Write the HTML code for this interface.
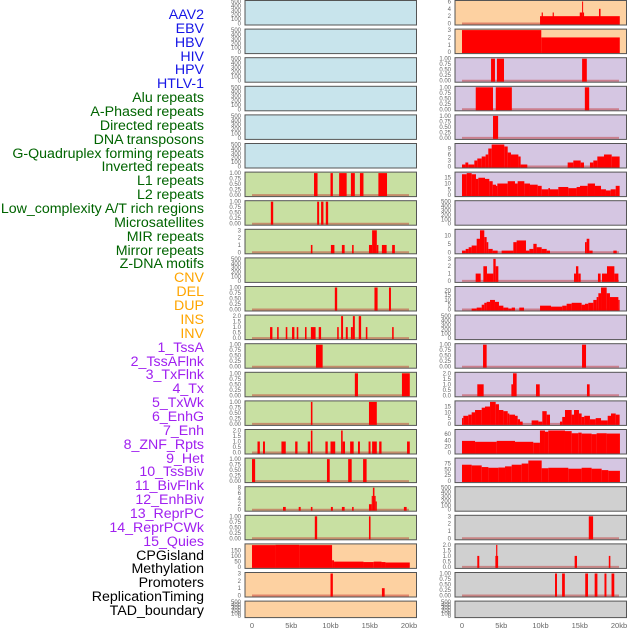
<!DOCTYPE html>
<html><head><meta charset="utf-8">
<style>
html,body{margin:0;padding:0;background:#fff;}
body{width:630px;height:630px;overflow:hidden;position:relative;font-family:"Liberation Sans",sans-serif;}
#labels{position:absolute;left:0;top:0;width:204px;height:630px;}
.lab{position:absolute;right:0;font-size:14.2px;line-height:14px;white-space:nowrap;}
svg{position:absolute;left:0;top:0;}
</style></head>
<body>
<div id="labels"></div>
<svg id="chart" width="630" height="630"></svg>
<script>
const trackNames = ["AAV2","EBV","HBV","HIV","HPV","HTLV-1","Alu repeats","A-Phased repeats","Directed repeats","DNA transposons","G-Quadruplex forming repeats","Inverted repeats","L1 repeats","L2 repeats","Low_complexity A/T rich regions","Microsatellites","MIR repeats","Mirror repeats","Z-DNA motifs","CNV","DEL","DUP","INS","INV","1_TssA","2_TssAFlnk","3_TxFlnk","4_Tx","5_TxWk","6_EnhG","7_Enh","8_ZNF_Rpts","9_Het","10_TssBiv","11_BivFlnk","12_EnhBiv","13_ReprPC","14_ReprPCWk","15_Quies","CPGisland","Methylation","Promoters","ReplicationTiming","TAD_boundary"];
const trackGroups = ["virus","virus","virus","virus","virus","virus","repeat","repeat","repeat","repeat","repeat","repeat","repeat","repeat","repeat","repeat","repeat","repeat","repeat","sv","sv","sv","sv","sv","chrom","chrom","chrom","chrom","chrom","chrom","chrom","chrom","chrom","chrom","chrom","chrom","chrom","chrom","chrom","other","other","other","other","other"];
const groupColors = {virus:"#1515e6",repeat:"#006400",sv:"#ffa500",chrom:"#a020f0",other:"#000000"};
const groupBg = {virus:"#c8e4ec",repeat:"#c8e0a2",sv:"#fdd1a1",chrom:"#d5c6e2",other:"#d0d0d0"};
const E=[0,100,200,300,400,500], P=[0,0.25,0.5,0.75,1];
const trackMax = [500,500,500,500,500,500, 1,1,3,500,1,2,1,1,1,2,1,8,1, 200,3,500, 6,3, 1,1,1,11,19,500,13,3,23,500,1,2,19,72,94, 500,3,2,1,500];
const trackTicks = [E,E,E,E,E,E, P,P,[0,1,2,3],E,P,[0,0.5,1,1.5,2],P,P,P,[0,0.5,1,1.5,2],P,[0,2,4,6,8],P, [0,50,100,150],[0,1,2,3],E, [0,2,4,6],[0,1,2,3], P,P,P,[0,3,6,9],[0,5,10,15],E,[0,5,10],[0,1,2,3],[0,5,10,15,20],E,P,[0,0.5,1,1.5,2],[0,5,10,15],[0,20,40,60],[0,25,50,75], E,[0,1,2,3],[0,0.5,1,1.5,2],P,E];
const tickFmt = [0,0,0,0,0,0, 2,2,0,0,2,1,2,2,2,1,2,0,2, 0,0,0, 0,0, 2,2,2,0,0,0,0,0,0,0,2,1,0,0,0, 0,0,1,2,0];
const trackBars = [
[],[],[],[],[],[],
[[7.9,8.35,1],[10.0,10.3,1],[11.1,12.06,1],[12.6,13.1,1],[13.75,14.2,1],[16.1,17.2,1]],
[[2.4,2.7,1],[8.3,8.55,1],[8.8,9.1,1],[9.4,9.7,1]],
[[7.5,7.7,1],[10.05,10.5,1],[11.45,11.8,1],[12.75,12.95,1],[14.9,15.3,1],[15.3,15.9,3],[15.9,16.1,1],[16.55,17.15,1],[17.85,18.2,1]],
[],
[[10.55,10.85,1],[15.6,16.0,1],[17.45,17.7,1]],
[[2.3,2.6,1],[3.2,3.4,1],[4.3,4.5,1],[5.1,5.4,1],[5.7,5.9,1],[6.75,6.95,1],[7.5,8.1,1],[8.5,8.8,1],[10.85,11.05,1],[11.35,11.6,2],[11.95,12.2,1],[12.6,12.85,1],[12.85,13.1,2],[13.6,13.9,2],[14.5,14.7,1],[17.85,18.05,1]],
[[8.15,9.0,1]],
[[13.1,13.5,1],[19.1,20.1,1]],
[[7.5,7.7,1],[14.9,15.9,1]],
[[0.7,1.0,1],[1.4,1.65,1],[3.75,4.3,1],[5.5,5.8,1],[7.1,7.4,1],[7.5,7.7,2],[9.35,9.65,1],[10.0,10.6,1],[11.35,11.55,2],[11.55,11.85,1],[12.5,12.95,1],[13.5,13.75,1],[14.85,15.1,1],[15.3,15.9,1],[16.2,16.5,1],[19.75,20.1,1]],
[[0,0.4,1],[9.55,9.9,1],[12.25,12.7,1],[14.15,14.6,1]],
[[3.95,4.3,1],[5.95,6.2,1],[7.5,7.7,1],[10.05,10.3,1],[11.45,11.8,1],[12.75,12.95,1],[14.9,15.25,2],[15.25,15.4,5],[15.4,15.6,8],[15.6,15.75,5],[15.75,15.9,3],[19.35,19.7,1]],
[[8.0,8.3,1],[14.9,15.1,1]],
[[0,3,198],[3,6,200],[6,10.2,198],[10.2,10.45,60],[10.45,14.2,48],[14.2,15.5,44],[15.5,16.5,48],[16.5,17,44],[17,20.1,40]],
[[10.0,10.3,3],[16.55,16.9,1]],
[],
[[9.94,20.1,2],[10.15,10.3,3],[11.55,11.7,3],[15.0,15.3,3],[15.3,15.4,6],[15.4,15.55,3],[17.45,17.65,4]],
[[0,10.1,3],[10.1,20.1,2]],
[[3.7,4.2,1],[4.45,5.35,1],[15.3,15.9,1]],
[[1.75,3.95,1],[4.3,6.35,1],[15.65,16.2,1]],
[[3.95,4.6,1]],
[[0,0.43,1],[0.43,0.8,2],[0.8,1.57,1],[1.57,1.95,3],[1.95,2.51,4],[2.51,3.01,5],[3.01,3.35,6],[3.35,3.78,9],[3.78,5.39,11],[5.39,5.82,10],[5.82,6.24,7],[6.24,7.18,6],[7.18,7.47,5],[7.47,8.32,1],[13.46,14.18,2],[14.18,15.12,3],[15.12,15.54,2],[16.3,16.73,2],[16.73,17.24,3],[17.24,18.09,5],[18.09,19.07,6],[19.07,20.08,5]],
[[0,0.6,18],[0.6,1.23,19],[1.23,1.78,18],[1.78,2.08,14],[2.08,2.93,15],[2.93,3.48,14],[3.48,3.91,12],[3.91,4.33,9],[4.33,4.5,8],[4.5,5.82,10],[5.82,6.75,12],[6.75,7.09,10],[7.09,7.94,12],[7.94,8.66,10],[8.66,9.64,9],[9.64,10.15,8],[10.15,11.0,5],[11.0,11.21,6],[11.21,12.27,5],[12.27,13.54,7],[13.54,14.6,6],[14.6,15.03,7],[15.03,16.01,8],[16.01,16.94,10],[16.94,17.71,8],[17.71,18.34,5],[18.34,18.94,4],[18.94,19.58,5],[19.58,20.08,8]],
[],
[[0,0.47,1],[0.47,0.85,2],[0.85,1.23,3],[1.23,1.87,4],[1.87,2.29,8],[2.29,2.84,13],[2.84,3.14,9],[3.14,3.35,6],[3.35,3.91,2],[3.91,4.54,1],[5.05,6.54,1],[6.54,6.96,6],[6.96,8.15,7],[8.15,8.58,1],[8.58,9.09,2],[9.09,9.51,5],[9.51,10.15,3],[10.15,10.79,2],[10.79,11.21,1],[15.67,15.88,6],[15.88,16.22,8],[16.22,16.64,1],[19.28,19.71,1]],
[[1.74,2.38,1],[2.72,3.18,2],[3.18,3.99,1],[3.99,4.29,3],[4.29,4.63,2],[14.27,14.52,1],[14.52,14.82,2],[14.82,15.12,1],[17.32,17.66,1],[17.83,18.47,1],[18.47,19.41,2],[19.41,19.92,1]],
[[1.23,1.87,1],[1.87,2.51,2],[2.51,2.84,5],[2.84,3.14,7],[3.14,3.57,8],[3.57,4.2,10],[4.2,4.71,8],[4.71,5.27,4],[5.27,5.9,2],[5.9,6.33,1],[6.33,6.75,2],[7.3,7.9,2],[9.94,11.34,4],[11.34,12.77,3],[12.77,13.33,4],[13.33,13.97,6],[13.97,15.24,7],[15.24,15.67,5],[15.67,16.09,6],[16.09,16.73,7],[16.73,17.15,10],[17.15,17.37,13],[17.37,17.71,17],[17.71,18.43,23],[18.43,18.85,17],[18.85,19.92,13],[19.92,20.08,10]],
[],
[[2.68,3.14,1],[15.29,15.8,1]],
[[1.95,2.76,1],[6.29,6.5,1],[6.5,6.96,2],[9.43,9.9,1],[15.92,16.26,1]],
[[0,0.17,5],[0.17,0.8,7],[0.8,1.23,8],[1.23,1.66,10],[1.66,2.51,12],[2.51,2.93,14],[2.93,3.57,15],[3.57,4.29,19],[4.29,4.71,17],[4.71,5.27,12],[5.27,5.82,11],[5.82,6.03,9],[6.03,6.75,8],[6.75,7.09,7],[7.09,7.39,4],[7.39,7.73,2],[8.87,9.73,3],[9.73,10.23,2],[10.23,10.79,11],[10.79,11.21,8],[12.48,12.77,2],[12.77,13.12,6],[13.12,13.97,12],[13.97,14.27,8],[14.27,14.9,12],[14.9,15.24,9],[15.24,15.58,6],[15.58,16.3,7],[16.3,17.03,4],[17.03,17.71,5],[17.71,18.56,3],[18.56,18.98,7],[18.98,19.58,9],[19.58,20.08,8]],
[[0,1.66,38],[1.66,4.42,35],[4.42,6.75,38],[6.75,9.08,35],[9.08,9.93,32],[9.93,10.57,72],[10.57,10.99,68],[10.99,13.12,72],[13.12,13.97,70],[13.97,14.82,63],[14.82,15.24,65],[15.24,16.51,62],[16.51,17.15,60],[17.15,18.42,63],[18.42,20.12,62]],
[[0,1.23,70],[1.23,2.51,67],[2.51,3.36,60],[3.36,4.63,57],[4.63,5.48,58],[5.48,6.33,63],[6.33,7.6,70],[7.6,8.45,75],[8.45,10.15,88],[10.15,10.99,55],[10.99,13.54,57],[13.54,15.24,53],[15.24,16.51,57],[16.51,17.79,53],[17.79,18.64,47],[18.64,20.12,44]],
[],
[[16.15,16.7,3]],
[[1.95,2.2,1],[4.25,4.6,1],[4.35,4.5,2],[14.35,14.65,1],[18.7,18.9,1]],
[[11.85,12.1,1],[12.75,13.1,1],[15.7,16.05,1],[16.9,17.25,1],[18.15,18.4,1],[19.05,19.4,1]],
[]
];
const xTickVals = [0,5,10,15,20];
const xTickLabels = ["0","5kb","10kb","15kb","20kb"];

const NS="http://www.w3.org/2000/svg";
const svg=document.getElementById('chart');
function mk(tag,attrs,parent){const e=document.createElementNS(NS,tag);for(const k in attrs)e.setAttribute(k,attrs[k]);(parent||svg).appendChild(e);return e;}

const labDiv=document.getElementById('labels');
trackNames.forEach((n,i)=>{
  const d=document.createElement('div');
  d.className='lab';
  d.textContent=n;
  d.style.color=groupColors[trackGroups[i]];
  d.style.top=(15.5+i*13.86-7.5)+'px';
  
  
  labDiv.appendChild(d);
});

const colX=[245,455], PW=171.5;
function panelTop(r){return 0.5+28.6*r;}
function panelH(r){return r===21?16.5:24.5;}
function xScale(col,v){return colX[col]+7+v*7.85;}

trackNames.forEach((n,i)=>{
  const col=i<22?0:1, r=i%22;
  const x0=colX[col], top=panelTop(r), h=panelH(r), bot=top+h;
  const g=mk('g',{});
  
  
  const bg=mk('rect',{x:x0,y:top,width:PW,height:h,fill:groupBg[trackGroups[i]],stroke:'none'},g);
  
  
  const max=trackMax[i];
  const y0=bot-1.5, y1=top+1;
  const yS=v=>y0-(Math.min(v,max)/max)*(y0-y1);
  const bars=trackBars[i];
  if(bars.length){
    const bl=mk('line',{x1:xScale(col,0),x2:xScale(col,20),y1:y0,y2:y0,stroke:'rgba(190,40,40,0.45)','stroke-width':2},g);
    
    
  }
  bars.forEach(b=>{
    const xa=xScale(col,b[0]), xb=xScale(col,b[1]);
    const rc=mk('rect',{x:xa,y:yS(b[2]),width:Math.max(xb-xa,1),height:y0-yS(b[2])+1,fill:'#ff0000'},g);
    
    
  });
  const fr=mk('rect',{x:x0,y:top,width:PW,height:h,fill:'none',stroke:'#555','stroke-width':1},g);
  
  
  trackTicks[i].forEach(t=>{
    const tx=mk('text',{x:x0-4,y:yS(t)+2,'font-size':6,fill:'#666','text-anchor':'end','font-family':'Liberation Sans, sans-serif'},g);
    tx.textContent=t.toFixed(tickFmt[i]);
    
    
  });
});
[0,1].forEach(col=>{
  xTickVals.forEach((v,k)=>{
    const tx=mk('text',{x:xScale(col,v),y:628,'font-size':7.5,fill:'#666','text-anchor':'middle','font-family':'Liberation Sans, sans-serif'});
    tx.textContent=xTickLabels[k];
    
    
  });
});
</script>
</body></html>
